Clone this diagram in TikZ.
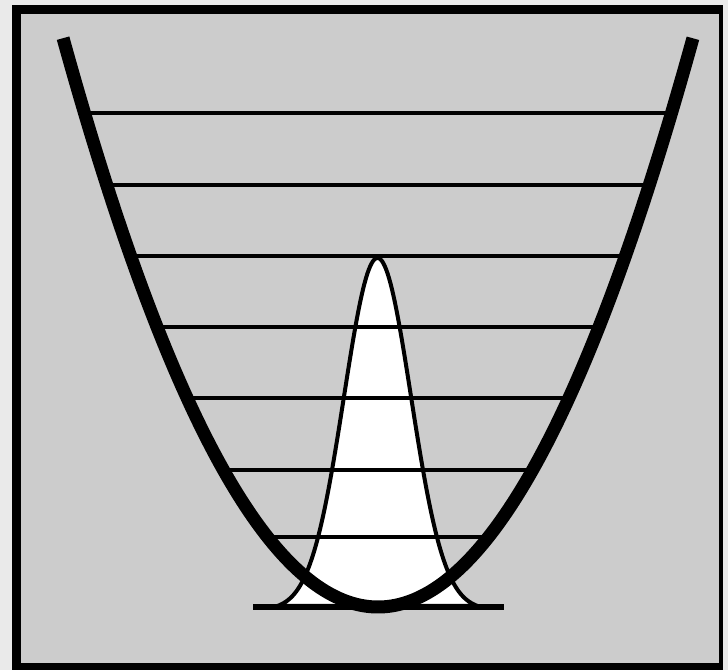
\documentclass[tikz,border=0pt]{standalone}
\begin{document}
\begin{tikzpicture}[x=1pt,y=-1pt,
  level/.style={line width=4pt,black},
  potential/.style={line width=13pt,black},
  density/.style={line width=4pt,black,fill=white,line join=round},
  baseline/.style={line width=6pt,black}]
\definecolor{panel}{RGB}{204,204,204}
\definecolor{outside}{RGB}{234,234,234}
\useasboundingbox (0,0) rectangle (728,670);
\fill[outside] (0,0) rectangle (728,670);
\fill[black] (12,5) rectangle (723,670);
\fill[panel] (21,14) rectangle (719,663);
% probability density (Gaussian)
\draw[density] plot[domain=-2.985:2.985,samples=150,smooth] ({377.5+33.5*\x},{610-352*exp(-\x*\x/2)}) -- cycle;
% energy levels
\foreach \y in {113,184.5,256,327,398,469.5,536.5}{
  \pgfmathsetmacro{\dx}{13.205*sqrt(607-\y)}
  \draw[level] ({378-\dx},\y) -- ({378+\dx},\y);
}
% baseline
\draw[baseline] (253,607) -- (504,607);
% potential well
\draw[potential] plot[domain=-23.85:23.85,samples=160,smooth] ({378+13.205*\x},{607-\x*\x});
\end{tikzpicture}
\end{document}
